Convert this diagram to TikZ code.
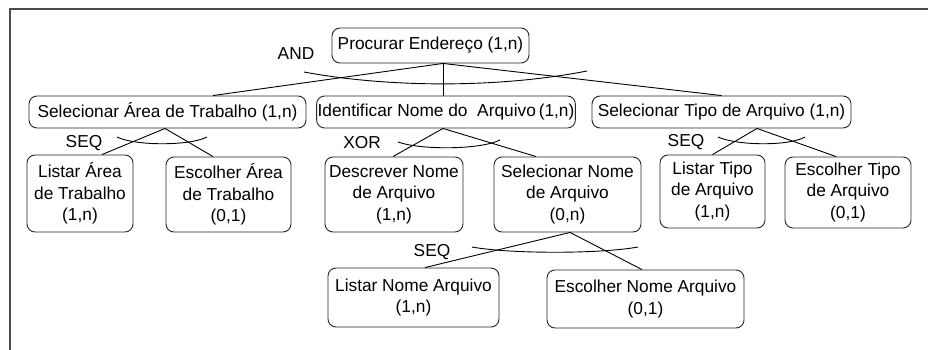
\documentclass[tikz,border=0pt]{standalone}
\usepackage{fontspec}
\setmainfont{Liberation Sans}
\usetikzlibrary{calc}
\tikzset{
	tarefa/.style={draw=black!85, line width=0.9pt, rounded corners=8pt, align=center, inner sep=1pt, font=\fontsize{17.3}{21.5}\selectfont},
	operador/.style={inner sep=0pt, font=\fontsize{17.3}{20}\selectfont},
	liga/.style={line width=0.9pt},
	arco/.style={line width=0.9pt}
}

\begin{document}
\begin{tikzpicture}[x=1pt, y=-1pt]
		%%%%% START %%%%%
		\useasboundingbox (0, 0) rectangle (928, 350);
		
		\draw[line width=1.5pt, color=black!70] (928, 9) -- (10, 9) -- (10, 350);
		
		% raiz
		\node[tarefa, minimum width=197pt, minimum height=35pt] (procurar) at (430.5, 45.5) {Procurar Endereço (1,n)};
		
		% primeiro nivel
		\node[tarefa, minimum width=277pt, minimum height=32pt] (selArea) at (167.5, 112) {Selecionar Área de Trabalho (1,n)};
		\node[tarefa, minimum width=256pt, minimum height=32pt] (identNome) at (446, 112) {Identificar Nome do\ \ Arquivo\,(1,n)};
		\node[tarefa, minimum width=259pt, minimum height=32pt] (selTipo) at (721.5, 112) {Selecionar Tipo de Arquivo (1,n)};
		
		% segundo nivel
		\node[tarefa, minimum width=106pt, minimum height=77pt] (listArea) at (80, 193.5) {Listar Área\\de Trabalho\\(1,n)};
		\node[tarefa, minimum width=125pt, minimum height=75pt] (escArea) at (228.5, 194.5) {Escolher Área\\de Trabalho\\(0,1)};
		\node[tarefa, minimum width=138pt, minimum height=75pt] (descNome) at (394, 194.5) {Descrever Nome\\de Arquivo\\(1,n)};
		\node[tarefa, minimum width=147pt, minimum height=75pt] (selNome) at (567.5, 194.5) {Selecionar Nome\\de Arquivo\\(0,n)};
		\node[tarefa, minimum width=105pt, minimum height=73pt] (listTipo) at (712.5, 191.5) {Listar Tipo\\de Arquivo\\(1,n)};
		\node[tarefa, minimum width=126pt, minimum height=71pt] (escTipo) at (848, 192.5) {Escolher Tipo\\de Arquivo\\(0,1)};
		
		% terceiro nivel
		\node[tarefa, minimum width=171pt, minimum height=59pt] (listNome) at (413.5, 297.5) {Listar Nome Arquivo\\(1,n)};
		\node[tarefa, minimum width=197pt, minimum height=58pt] (escNome) at (645.5, 299) {Escolher Nome Arquivo\\(0,1)};
		
		% operadores
		\node[operador] (opAnd) at (296, 54) {AND};
		\node[operador] (opSeqArea) at (84, 143) {SEQ};
		\node[operador] (opXor) at (362, 143) {XOR};
		\node[operador] (opSeqTipo) at (686, 142) {SEQ};
		\node[operador] (opSeqNome) at (432, 252) {SEQ};
		
		% ligacoes
		\draw[liga] ([xshift=12.5pt]procurar.south) -- ([xshift=45.5pt]selArea.north);
		\draw[liga] ([xshift=12.5pt]procurar.south) -- ([xshift=-3pt]identNome.north);
		\draw[liga] ([xshift=12.5pt]procurar.south) -- (selTipo.north);
		
		\draw[liga] ([xshift=-2.5pt]selArea.south) -- ([xshift=22pt]listArea.north);
		\draw[liga] ([xshift=-2.5pt]selArea.south) -- ([xshift=-15.5pt]escArea.north);
		
		\draw[liga] ([xshift=-3pt]identNome.south) -- ([xshift=-1pt]descNome.north);
		\draw[liga] ([xshift=-3pt]identNome.south) -- ([xshift=-31.5pt]selNome.north);
		
		\draw[liga] ([xshift=35.5pt]selTipo.south) -- (listTipo.north);
		\draw[liga] ([xshift=35.5pt]selTipo.south) -- ([xshift=-12pt]escTipo.north);
		
		\draw[liga] ([xshift=2.5pt]selNome.south) -- ([xshift=11.5pt]listNome.north);
		\draw[liga] ([xshift=2.5pt]selNome.south) -- ([xshift=-3.5pt]escNome.north);
		
		% arcos
		\draw[arco] (304, 72) .. controls (390, 88) and (500, 88) .. (587, 71);
		\draw[arco] (117, 137) .. controls (135, 146) and (190, 146) .. (207, 137);
		\draw[arco] (398, 142) .. controls (420, 150) and (480, 150) .. (500, 140);
		\draw[arco] (718, 137) .. controls (738, 146) and (790, 146) .. (805, 137);
		\draw[arco] (472, 247) .. controls (510, 254) and (600, 254) .. (638, 247);
		
		%%%%% END %%%%%
	\end{tikzpicture}
\end{document}
